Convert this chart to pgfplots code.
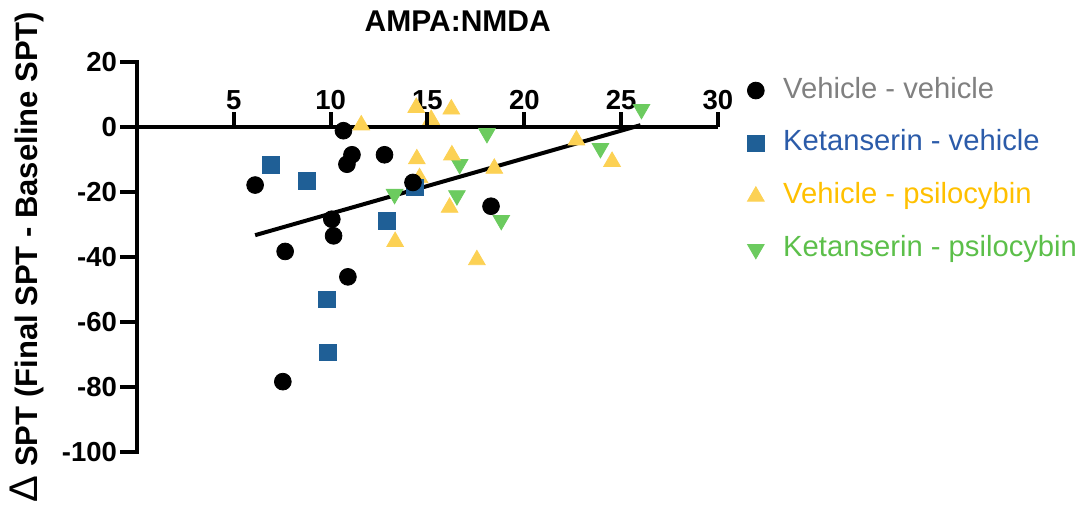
\documentclass[border=0pt]{standalone}
\usepackage{pgfplots}
\pgfplotsset{compat=1.18}
\usepackage{fontspec}
\setmainfont{Liberation Sans}
\definecolor{cblue}{HTML}{1F5F96}
\definecolor{cyel}{HTML}{FCD154}
\definecolor{cgreen}{HTML}{6CCB5F}
\definecolor{tgray}{HTML}{808080}
\definecolor{tblue}{HTML}{2B5BA9}
\definecolor{tyel}{HTML}{FFC000}
\definecolor{tgreen}{HTML}{5CBF4A}
\begin{document}
\begin{tikzpicture}
\begin{axis}[
  name=ax,
  scale only axis,
  width=290.5pt, height=195.3pt,
  xmin=0, xmax=30, ymin=-100, ymax=20,
  enlargelimits=false,
  clip=false,
  axis y line=left,
  axis x line=middle,
  axis line style={-, line width=2pt, black},
  tick style={draw=none},
  major tick length=6.5pt,
  xtick={5,10,15,20,25,30},
  xticklabels={5,10,15,20,25,30},
  ytick={-100,-80,-60,-40,-20,0,20},
  yticklabels={-100,-80,-60,-40,-20,0,20},
  ytick align=outside,
  xtick align=inside,
  ticklabel style={font=\bfseries\fontsize{13.75}{15}\selectfont},
  xticklabel style={anchor=base, yshift=8.8pt},
  title={AMPA:NMDA},
  title style={at={(axis description cs:0.552,1)}, anchor=base, yshift=8.85pt, font=\bfseries\fontsize{15}{17}\selectfont},
  ylabel={{\mdseries\fontsize{20}{20}\selectfont Δ} SPT (Final SPT - Baseline SPT)},
  ylabel style={at={(axis description cs:-0.19,0.5)}, anchor=center, font=\bfseries\fontsize{15.5}{17}\selectfont},
  legend style={draw=none, fill=none, at={(axis description cs:1.050,0.972)}, anchor=north west,
    inner sep=0pt, row sep=8.95pt, font=\fontsize{14.6}{16}\selectfont,
    nodes={inner sep=2pt, text height=10.5pt, text depth=3pt}},
  legend cell align=left,
  reverse legend,
  legend image code/.code={\draw[mark repeat=2,mark phase=2,#1] plot coordinates {(0pt,0pt)(6pt,0pt)(12pt,0pt)}; \path (17.5pt,0pt);},
]
\addplot[only marks, mark=triangle*, mark size=4.8pt, mark options={rotate=180, fill=cgreen, draw=cgreen}] coordinates {
(18.07,-2.0) (16.66,-11.5) (16.52,-21.1) (13.3,-20.7) (18.81,-28.7) (23.93,-6.6) (26.05,5.4)
};
\addlegendentry{\textcolor{tgreen}{Ketanserin - psilocybin}}
\addplot[only marks, mark=triangle*, mark size=4.8pt, mark options={fill=cyel, draw=cyel}] coordinates {
(11.58,0.5) (14.42,5.9) (15.19,2.2) (16.23,5.4) (14.45,-9.9) (16.26,-8.7) (14.59,-15.7) (18.45,-12.8) (16.14,-24.8) (13.33,-35.3) (17.55,-40.9) (22.69,-4.1) (24.53,-10.7)
};
\addlegendentry{\textcolor{tyel}{Vehicle - psilocybin}}
\addplot[only marks, mark=square*, mark size=4.2pt, mark options={fill=cblue, draw=cblue}] coordinates {
(6.91,-11.8) (8.79,-16.6) (12.9,-29.0) (14.37,-18.6) (9.82,-53.0) (9.85,-69.3)
};
\addlegendentry{\textcolor{tblue}{Ketanserin - vehicle}}
\addplot[only marks, mark=*, mark size=4.2pt, mark options={fill=black, draw=black}] coordinates {
(10.66,-1.2) (11.1,-8.6) (10.84,-11.5) (12.78,-8.6) (6.1,-17.9) (14.25,-17.1) (10.06,-28.4) (10.15,-33.5) (7.65,-38.3) (10.89,-46.1) (7.53,-78.3) (18.28,-24.4)
};
\addlegendentry{\textcolor{tgray}{Vehicle - vehicle}}
\addplot[forget plot, black, line width=2pt, no marks] coordinates {(6.1,-33.3) (26.0,0.5)};
\end{axis}
% axis ticks (decoration)
\foreach \v in {5,10,15,20,25,30}
  \draw[line width=2pt, black] (ax.south west) ++(\v*9.68333pt,162.75pt) -- ++(0pt,7.5pt);
\foreach \w in {0,20,40,60,80,100,120}
  \draw[line width=2pt, black, line cap=rect] (ax.south west) ++(0pt,\w*1.6275pt) -- ++(-7.5pt,0pt);
\pgfresetboundingbox
\path (ax.south west) ++(-68.5pt,-32.35pt) rectangle ++(542pt,258.5pt);
\end{tikzpicture}
\end{document}
